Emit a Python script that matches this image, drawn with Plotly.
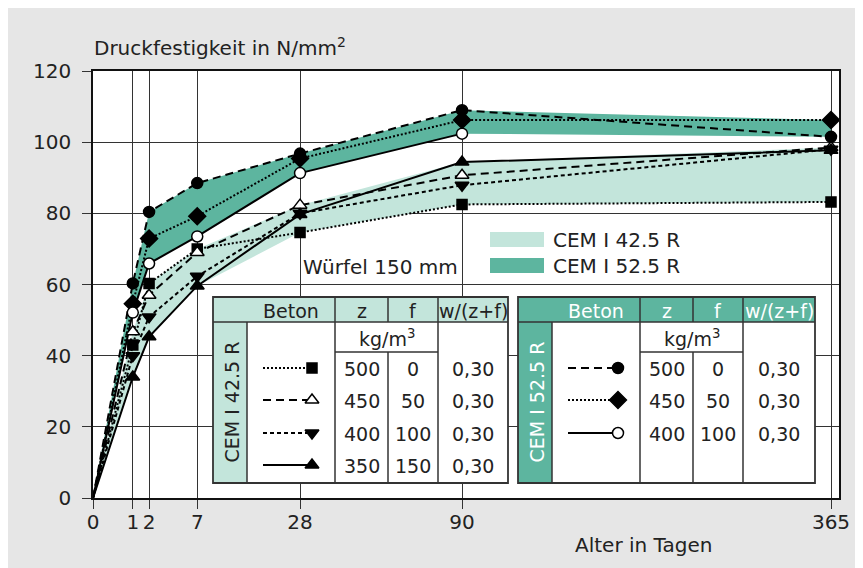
import numpy as np
import plotly.graph_objects as go

# ---------------- data ----------------
DAYS = [0, 1, 2, 7, 28, 90, 365]
TICK_DAYS = [0, 1, 2, 7, 28, 90, 365]
TICK_LABELS = ["0", "1", "2", "7", "28", "90", "365"]
Y_TICKS = [0, 20, 40, 60, 80, 100, 120]

# CEM I 42.5 R  (z / f)
C42_500_0 = [0, 43.0, 60.3, 70.0, 74.6, 82.5, 83.2]
C42_450_50 = [0, 46.7, 57.0, 69.0, 82.3, 90.7, 98.5]
C42_400_100 = [0, 40.0, 50.9, 62.3, 80.0, 87.9, 98.0]
C42_350_150 = [0, 34.0, 45.3, 59.6, 79.7, 94.4, 97.7]
# CEM I 52.5 R
C52_500_0 = [0, 60.3, 80.4, 88.5, 96.8, 109.0, 101.5]
C52_450_50 = [0, 54.6, 72.9, 79.2, 95.4, 106.2, 106.2]
C52_400_100 = [0, 52.1, 65.9, 73.5, 91.3, 102.4, None]

TABLE_42_ROWS = [("500", "0", "0,30"), ("450", "50", "0,30"),
                 ("400", "100", "0,30"), ("350", "150", "0,30")]
TABLE_52_ROWS = [("500", "0", "0,30"), ("450", "50", "0,30"),
                 ("400", "100", "0,30")]

# ---------------- styling ----------------
LIGHT = "#c3e5db"
DARK = "#5db59f"
INK = "#222222"
FONT = "DejaVu Sans, Liberation Sans, Arial, sans-serif"
FS = 20
FS_TAB = 19

OFF = 8                      # page body margin
W, H = 863 - OFF, 568 - OFF  # figure size
L, R, T, B = 93, 839, 71, 498  # plot area in page pixels
P = 0.495


def xs(d):
    return float(d) ** P


XMAX = xs(365) * (R - L) / (831 - L)


def dx(px):
    return (px - L) / (R - L) * XMAX


def dy(py):
    return (B - py) / (B - T) * 120


def pxp(px):
    return (px - L) / (R - L)


def pyp(py):
    return (B - py) / (B - T)


X = [xs(d) for d in DAYS]

fig = go.Figure()


def arr(v):
    return np.array([np.nan if a is None else a for a in v], dtype=float)


def band(series, color):
    m = np.vstack([arr(s) for s in series])
    up = np.nanmax(m, axis=0)
    lo = np.nanmin(m, axis=0)
    fig.add_trace(go.Scatter(x=X, y=up, mode="lines", line=dict(width=0),
                             hoverinfo="skip", showlegend=False))
    fig.add_trace(go.Scatter(x=X, y=lo, mode="lines", line=dict(width=0),
                             fill="tonexty", fillcolor=color,
                             hoverinfo="skip", showlegend=False))


band([C42_500_0, C42_450_50, C42_400_100, C42_350_150], LIGHT)
band([C52_500_0, C52_450_50, C52_400_100], DARK)

SERIES = [
    (C42_500_0, "2px,2px", "square", "black", 10),
    (C42_450_50, "8px,5px", "triangle-up", "white", 12),
    (C42_400_100, "4px,3px", "triangle-down", "black", 12),
    (C42_350_150, "solid", "triangle-up", "black", 12),
    (C52_500_0, "8px,5px", "circle", "black", 11),
    (C52_450_50, "2px,2px", "diamond", "black", 13),
    (C52_400_100, "solid", "circle", "white", 11),
]

for vals, dash, sym, fillc, size in SERIES:
    fig.add_trace(go.Scatter(x=X, y=arr(vals), mode="lines",
                             line=dict(color="black", width=2, dash=dash),
                             hoverinfo="skip", showlegend=False))
for vals, dash, sym, fillc, size in SERIES:
    fig.add_trace(go.Scatter(x=X[1:], y=arr(vals)[1:], mode="markers",
                             marker=dict(symbol=sym, size=size, color=fillc,
                                         line=dict(color="black", width=1.5)),
                             hoverinfo="skip", showlegend=False))

shapes = []
annotations = []


def line(x0, y0, x1, y1, w=1.5):
    shapes.append(dict(type="line", xref="x", yref="y", layer="between",
                       x0=dx(x0), y0=dy(y0), x1=dx(x1), y1=dy(y1),
                       line=dict(color="#333333", width=w)))


def rect(x0, y0, x1, y1, fill, w=0):
    shapes.append(dict(type="rect", xref="x", yref="y", layer="between",
                       x0=dx(x0), y0=dy(y0), x1=dx(x1), y1=dy(y1),
                       fillcolor=fill,
                       line=dict(color="#333333", width=w)))


def text(px, py, s, color=INK, size=FS, angle=0, xanchor="center"):
    annotations.append(dict(xref="paper", yref="paper", x=pxp(px), y=pyp(py),
                            text=s, showarrow=False, textangle=angle,
                            xanchor=xanchor, yanchor="middle",
                            font=dict(family=FONT, size=size, color=color)))


def table(xc, fill, txtcol, label, rows, sym_x, series_idx):
    x0, xl, xb, xz, xf, x1 = xc
    y0, yh, yk, y1 = 297, 322, 352, 483
    rect(x0, y0, x1, y1, "white")
    rect(x0, y0, x1, yh, fill)
    rect(x0, yh, xl, y1, fill)
    line(x0, yh, x1, yh)
    line(xb, yk, xf, yk)
    line(xl, yh, xl, y1)
    line(xb, y0, xb, y1)
    line(xz, y0, xz, yh)
    line(xz, yk, xz, y1)
    line(xf, y0, xf, y1)
    rect(x0, y0, x1, y1, "rgba(0,0,0,0)", w=1.8)
    hy = (y0 + yh) / 2 + 1
    text((xl + xb) / 2, hy, "Beton", txtcol, FS_TAB)
    text((xb + xz) / 2, hy, "z", txtcol, FS_TAB)
    text((xz + xf) / 2, hy, "f", txtcol, FS_TAB)
    text((xf + x1) / 2, hy, "w/(z+f)", txtcol, FS_TAB)
    text((xb + xf) / 2, (yh + yk) / 2 + 1, "kg/m<sup>3</sup>", INK, FS_TAB)
    text((x0 + xl) / 2 + 1, (yh + y1) / 2, label, txtcol, FS_TAB, angle=-90)
    row_y = [368, 400, 433, 465]
    for i, (z, f, w) in enumerate(rows):
        ry = row_y[i]
        text((xb + xz) / 2, ry + 1, z, INK, FS_TAB)
        text((xz + xf) / 2, ry + 1, f, INK, FS_TAB)
        text((xf + x1) / 2, ry + 1, w, INK, FS_TAB)
        vals, dash, sym, fillc, size = SERIES[series_idx[i]]
        sx0, sx1 = sym_x
        fig.add_trace(go.Scatter(x=[dx(sx0), dx(sx1)], y=[dy(ry), dy(ry)],
                                 mode="lines",
                                 line=dict(color="black", width=2, dash=dash),
                                 hoverinfo="skip", showlegend=False))
        fig.add_trace(go.Scatter(x=[dx(sx1)], y=[dy(ry)], mode="markers",
                                 marker=dict(symbol=sym, size=size, color=fillc,
                                             line=dict(color="black", width=1.5)),
                                 hoverinfo="skip", showlegend=False))


table((213, 247, 335, 388, 438, 508), LIGHT, INK, "CEM I 42.5 R",
      TABLE_42_ROWS, (263, 312), [0, 1, 2, 3])
table((518, 552, 640, 693, 743, 815), DARK, "white", "CEM I 52.5 R",
      TABLE_52_ROWS, (568, 618), [4, 5, 6])

# legend swatches
rect(490, 232, 544, 247, LIGHT)
rect(490, 258, 544, 273, DARK)
text(551, 240, "CEM I 42.5 R", xanchor="left")
text(551, 266, "CEM I 52.5 R", xanchor="left")

text(380, 267, "Würfel 150 mm")
text(92, 47, "Druckfestigkeit in N/mm<sup>2</sup>", xanchor="left")
text(643, 545, "Alter in Tagen")

fig.update_layout(
    width=W, height=H,
    margin=dict(l=L - OFF, r=W - (R - OFF), t=T - OFF, b=H - (B - OFF)),
    paper_bgcolor="#e6e6e6",
    plot_bgcolor="white",
    font=dict(family=FONT, size=FS, color=INK),
    showlegend=False,
    shapes=shapes,
    annotations=annotations,
    xaxis=dict(range=[0, XMAX], tickmode="array",
               tickvals=[xs(d) for d in TICK_DAYS], ticktext=TICK_LABELS,
               showgrid=True, gridcolor="#333333", gridwidth=1,
               showline=True, linecolor="#111111", linewidth=1.5, mirror=True,
               ticks="outside", ticklen=9, tickcolor="#333333", tickwidth=1,
               ticklabelstandoff=-4,
               zeroline=False, fixedrange=True),
    yaxis=dict(range=[0, 120], tickmode="array", tickvals=Y_TICKS,
               showgrid=True, gridcolor="#333333", gridwidth=1,
               showline=True, linecolor="#111111", linewidth=1.5, mirror=True,
               ticks="outside", ticklen=9, tickcolor="#333333", tickwidth=1,
               ticklabelstandoff=7,
               zeroline=False, fixedrange=True),
)

fig.write_html("out.html")
